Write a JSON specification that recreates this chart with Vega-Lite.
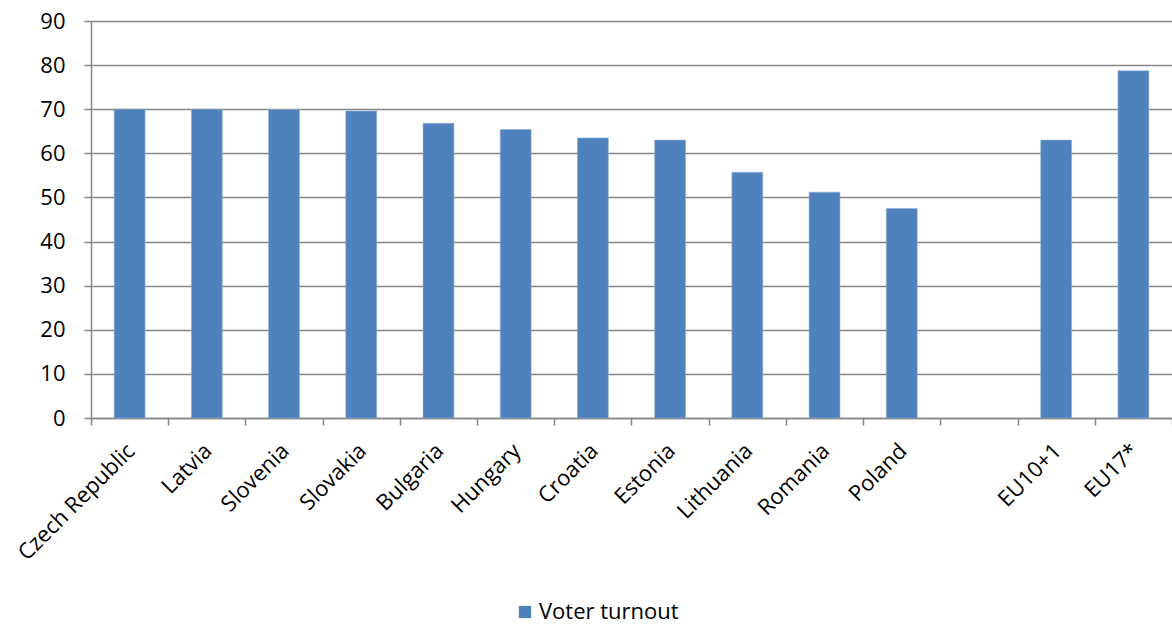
{
  "$schema": "https://vega.github.io/schema/vega-lite/v6.json",
  "width": 1081,
  "height": 397,
  "autosize": {"type": "none"},
  "padding": {"left": 91, "top": 21, "right": 0, "bottom": 207},
  "background": "white",
  "config": {
    "view": {"stroke": null},
    "font": "Open Sans"
  },
  "data": {
    "values": [
      {"country": "Czech Republic", "turnout": 70.0, "series": "Voter turnout"},
      {"country": "Latvia", "turnout": 70.0, "series": "Voter turnout"},
      {"country": "Slovenia", "turnout": 69.9, "series": "Voter turnout"},
      {"country": "Slovakia", "turnout": 69.6, "series": "Voter turnout"},
      {"country": "Bulgaria", "turnout": 66.8, "series": "Voter turnout"},
      {"country": "Hungary", "turnout": 65.4, "series": "Voter turnout"},
      {"country": "Croatia", "turnout": 63.5, "series": "Voter turnout"},
      {"country": "Estonia", "turnout": 63.0, "series": "Voter turnout"},
      {"country": "Lithuania", "turnout": 55.7, "series": "Voter turnout"},
      {"country": "Romania", "turnout": 51.2, "series": "Voter turnout"},
      {"country": "Poland", "turnout": 47.5, "series": "Voter turnout"},
      {"country": "EU10+1", "turnout": 63.0, "series": "Voter turnout"},
      {"country": "EU17*", "turnout": 78.7, "series": "Voter turnout"}
    ]
  },
  "mark": {"type": "bar", "width": {"band": 0.4}, "stroke": "#8eb0d8", "strokeWidth": 0.6},
  "encoding": {
    "x": {
      "field": "country",
      "type": "nominal",
      "title": null,
      "scale": {
        "domain": ["Czech Republic", "Latvia", "Slovenia", "Slovakia", "Bulgaria", "Hungary", "Croatia", "Estonia", "Lithuania", "Romania", "Poland", " ", "EU10+1", "EU17*"],
        "paddingInner": 0,
        "paddingOuter": 0
      },
      "axis": {
        "labelAngle": -45,
        "labelAlign": "right",
        "labelBaseline": "middle",
        "labelFontSize": 22,
        "labelColor": "#000000",
        "labelPadding": 22,
        "labelOffset": 1,
        "labelLimit": 300,
        "tickBand": "extent",
        "tickColor": "#868686",
        "tickWidth": 1.5,
        "tickSize": 7,
        "domainColor": "#868686",
        "domainWidth": 1.5,
        "grid": false
      }
    },
    "y": {
      "field": "turnout",
      "type": "quantitative",
      "title": null,
      "scale": {"domain": [0, 90], "nice": false},
      "axis": {
        "values": [0, 10, 20, 30, 40, 50, 60, 70, 80, 90],
        "labelFontSize": 22,
        "labelColor": "#000000",
        "labelPadding": 19,
        "tickColor": "#868686",
        "tickWidth": 1.5,
        "tickSize": 7,
        "domainColor": "#868686",
        "domainWidth": 1.5,
        "gridColor": "#868686",
        "gridWidth": 1.5
      }
    },
    "color": {
      "field": "series",
      "type": "nominal",
      "scale": {"range": ["#4f81bd"]},
      "legend": {
        "title": null,
        "orient": "none",
        "legendX": 423,
        "legendY": 580,
        "symbolType": "square",
        "symbolSize": 150,
        "symbolFillColor": "#4f81bd",
        "symbolStrokeColor": "#4f81bd",
        "symbolStrokeWidth": 0,
        "symbolOpacity": 1,
        "labelFontSize": 22,
        "labelColor": "#000000",
        "labelOffset": 3,
        "labelLimit": 300
      }
    }
  }
}
